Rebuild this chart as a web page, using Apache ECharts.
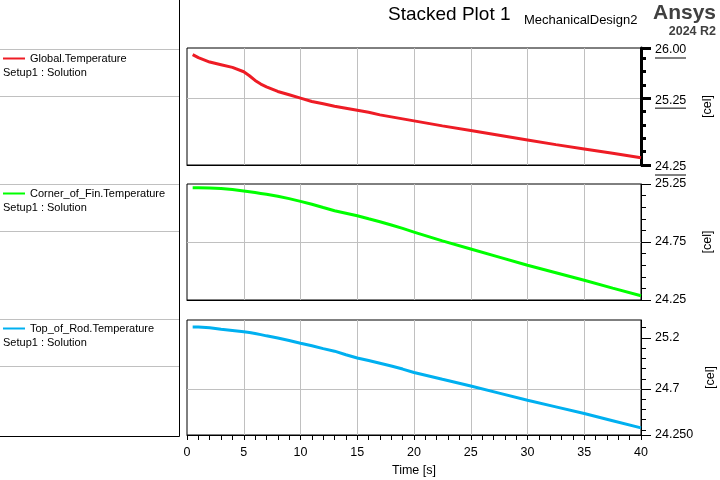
<!DOCTYPE html>
<html>
<head>
<meta charset="utf-8">
<script src="https://cdn.jsdelivr.net/npm/echarts@6/dist/echarts.min.js"></script>
<style>
html, body { margin: 0; padding: 0; background: #fff; }
#chart { width: 720px; height: 480px; }
</style>
</head>
<body>
<div id="chart"></div>
<script>
// time steps [s]
const times = [0.5, 1, 2, 3, 4, 5, 5.5, 6, 6.5, 7, 8, 9, 10, 11, 12, 13, 14, 15, 16, 17, 18, 19, 20, 22.5, 25, 27.5, 30, 32.5, 35, 37.5, 40];

// temperatures [cel]
const globalTemp = [25.90, 25.855, 25.79, 25.75, 25.71, 25.645, 25.585, 25.515, 25.46, 25.42, 25.35, 25.30, 25.25, 25.20, 25.165, 25.13, 25.10, 25.07, 25.04, 25.00, 24.97, 24.94, 24.91, 24.835, 24.765, 24.695, 24.625, 24.555, 24.49, 24.425, 24.36];
const cornerTemp = [25.218, 25.218, 25.216, 25.212, 25.203, 25.19, 25.183, 25.176, 25.169, 25.162, 25.145, 25.124, 25.10, 25.075, 25.047, 25.02, 24.998, 24.976, 24.95, 24.925, 24.897, 24.867, 24.835, 24.76, 24.69, 24.62, 24.55, 24.485, 24.42, 24.352, 24.287];
const rodTemp = [25.307, 25.307, 25.30, 25.285, 25.273, 25.26, 25.252, 25.243, 25.232, 25.22, 25.198, 25.175, 25.148, 25.123, 25.095, 25.07, 25.035, 25.003, 24.978, 24.952, 24.925, 24.895, 24.862, 24.795, 24.73, 24.66, 24.59, 24.525, 24.46, 24.39, 24.32];

const seriesNames = ['Global.Temperature', 'Corner_of_Fin.Temperature', 'Top_of_Rod.Temperature'];
const seriesColors = ['#ee1c25', '#00ff00', '#00b0f0'];

// y axis ticks / labels per plot
const yRange1 = [24.25, 26.0];
const yMajor1 = [24.25, 25.25, 26.0];
const yLabels1 = ['24.25', '25.25', '26.00'];
const yMinor1 = [24.45, 24.65, 24.85, 25.05, 25.45, 25.65, 25.85];

const yRange2 = [24.25, 25.25];
const yMajor2 = [24.25, 24.75, 25.25];
const yLabels2 = ['24.25', '24.75', '25.25'];
const yMinor2 = [24.35, 24.45, 24.55, 24.65, 24.85, 24.95, 25.05, 25.15];

const yRange3 = [24.25, 25.375];
const yMajor3 = [24.25, 24.7, 25.2];
const yLabels3 = ['24.250', '24.7', '25.2'];
const yMinor3 = [24.3, 24.4, 24.5, 24.6, 24.8, 24.9, 25.0, 25.1, 25.3];

const FONT = 'Arial, "Liberation Sans", sans-serif';
const gridTops = [48, 184, 320];
const gridHeights = [117, 116, 115];

const chart = echarts.init(document.getElementById('chart'));

function labelOf(major, labels, v) {
  for (let i = 0; i < major.length; i++) {
    if (Math.abs(major[i] - v) < 1e-6) return labels[i];
  }
  return '';
}

function makeYAxes(gi, range, major, labels, minor, bold) {
  const w = bold ? 3 : 1;
  return [{
    gridIndex: gi,
    type: 'value',
    position: 'right',
    min: range[0],
    max: range[1],
    name: '[cel]',
    nameLocation: 'middle',
    nameRotate: 90,
    nameGap: 60,
    nameTextStyle: { fontSize: 12.5, color: '#000', fontFamily: FONT },
    axisLine: { show: true, onZero: false, lineStyle: { color: '#000', width: w } },
    axisTick: { show: true, customValues: major, length: 10, lineStyle: { color: '#000', width: w } },
    axisLabel: {
      customValues: major,
      margin: 14,
      color: '#000',
      fontSize: 12.5,
      fontFamily: FONT,
      padding: bold ? [6, 0, 0, 0] : 0,
      formatter: (v) => bold
        ? '{v|' + labelOf(major, labels, v) + '}\n{u|}'
        : labelOf(major, labels, v),
      rich: {
        v: { fontSize: 12.5, fontFamily: FONT, color: '#000', lineHeight: 14 },
        u: { width: 31, height: 1, fontSize: 1, lineHeight: 2, backgroundColor: '#000' }
      }
    },
    splitLine: { show: true, showMinLine: false, showMaxLine: false, lineStyle: { color: '#c0c0c0', width: 1 } }
  }, {
    // second axis on the same edge, only for the short minor ticks
    gridIndex: gi,
    type: 'value',
    position: 'right',
    min: range[0],
    max: range[1],
    axisLine: { show: false, onZero: false },
    axisTick: { show: true, customValues: minor, length: 5, lineStyle: { color: '#000', width: w } },
    axisLabel: { show: false },
    splitLine: { show: false }
  }];
}

function makeXAxis(gi, showLabels) {
  return {
    gridIndex: gi,
    type: 'value',
    min: 0,
    max: 40,
    interval: 5,
    name: showLabels ? 'Time [s]' : '',
    nameLocation: 'middle',
    nameGap: 29,
    nameTextStyle: { fontSize: 12.5, color: '#000', fontFamily: FONT },
    axisLine: { show: true, onZero: false, lineStyle: { color: '#000', width: 1 } },
    axisTick: { show: showLabels, length: 5, lineStyle: { color: '#000' } },
    minorTick: { show: showLabels, splitNumber: 5, length: 5, lineStyle: { color: '#000' } },
    axisLabel: { show: showLabels, margin: 11, color: '#000', fontSize: 12.5, fontFamily: FONT },
    splitLine: { show: true, showMinLine: false, showMaxLine: false, lineStyle: { color: '#c0c0c0', width: 1 } }
  };
}

const allData = [globalTemp, cornerTemp, rodTemp];
const series = allData.map((vals, i) => ({
  name: seriesNames[i],
  type: 'line',
  xAxisIndex: i,
  yAxisIndex: i * 2,
  data: times.map((t, k) => [t, vals[k]]),
  showSymbol: false,
  symbol: 'none',
  lineStyle: { color: seriesColors[i], width: 3 },
  itemStyle: { color: seriesColors[i] },
  z: 3
}));

const legendTops = [53, 188, 323];
const setupTexts = [72.5, 207.5, 342.5];
const sepLines = [49.5, 96.5, 184.5, 231.5, 319.5, 366.5];

const graphic = [];
sepLines.forEach(y => {
  graphic.push({ type: 'line', shape: { x1: 0, y1: y, x2: 179, y2: y }, style: { stroke: '#c0c0c0', lineWidth: 1 }, silent: true });
});
graphic.push({ type: 'polyline', shape: { points: [[179.5, 0], [179.5, 436.5], [0, 436.5]] }, style: { stroke: '#000', lineWidth: 1, fill: null }, silent: true });
setupTexts.forEach(y => {
  graphic.push({ type: 'text', style: { x: 3, y: y, text: 'Setup1 : Solution', fontSize: 11, fontFamily: FONT, fill: '#000', verticalAlign: 'middle' }, silent: true });
});

chart.setOption({
  animation: false,
  backgroundColor: '#fff',
  textStyle: { fontFamily: FONT },
  title: [
    { text: 'Stacked Plot 1', left: 388, top: 5, padding: 0, textStyle: { fontSize: 19, fontWeight: 'normal', color: '#000', fontFamily: FONT } },
    { text: 'MechanicalDesign2', left: 524, top: 14, padding: 0, textStyle: { fontSize: 13, fontWeight: 'normal', color: '#000', fontFamily: FONT } },
    { text: 'Ansys', right: 4, top: 3, padding: 0, textStyle: { fontSize: 21, fontWeight: 'bold', color: '#404040', fontFamily: FONT } },
    { text: '2024 R2', right: 4, top: 25, padding: 0, textStyle: { fontSize: 12.5, fontWeight: 'bold', color: '#404040', fontFamily: FONT } }
  ],
  legend: seriesNames.map((n, i) => ({
    data: [n],
    left: 3,
    top: legendTops[i],
    padding: 0,
    icon: 'rect',
    itemWidth: 22,
    itemHeight: 2,
    selectedMode: false,
    textStyle: { fontSize: 11, color: '#000', fontFamily: FONT }
  })),
  grid: gridTops.map((t, i) => ({
    left: 187,
    right: 79,
    top: t,
    height: gridHeights[i],
    outerBoundsMode: 'none',
    containLabel: false,
    show: true,
    borderColor: '#000',
    borderWidth: 1,
    backgroundColor: 'transparent'
  })),
  xAxis: [makeXAxis(0, false), makeXAxis(1, false), makeXAxis(2, true)],
  yAxis: [].concat(
    makeYAxes(0, yRange1, yMajor1, yLabels1, yMinor1, true),
    makeYAxes(1, yRange2, yMajor2, yLabels2, yMinor2, false),
    makeYAxes(2, yRange3, yMajor3, yLabels3, yMinor3, false)
  ),
  graphic: graphic,
  series: series
});
</script>
</body>
</html>
